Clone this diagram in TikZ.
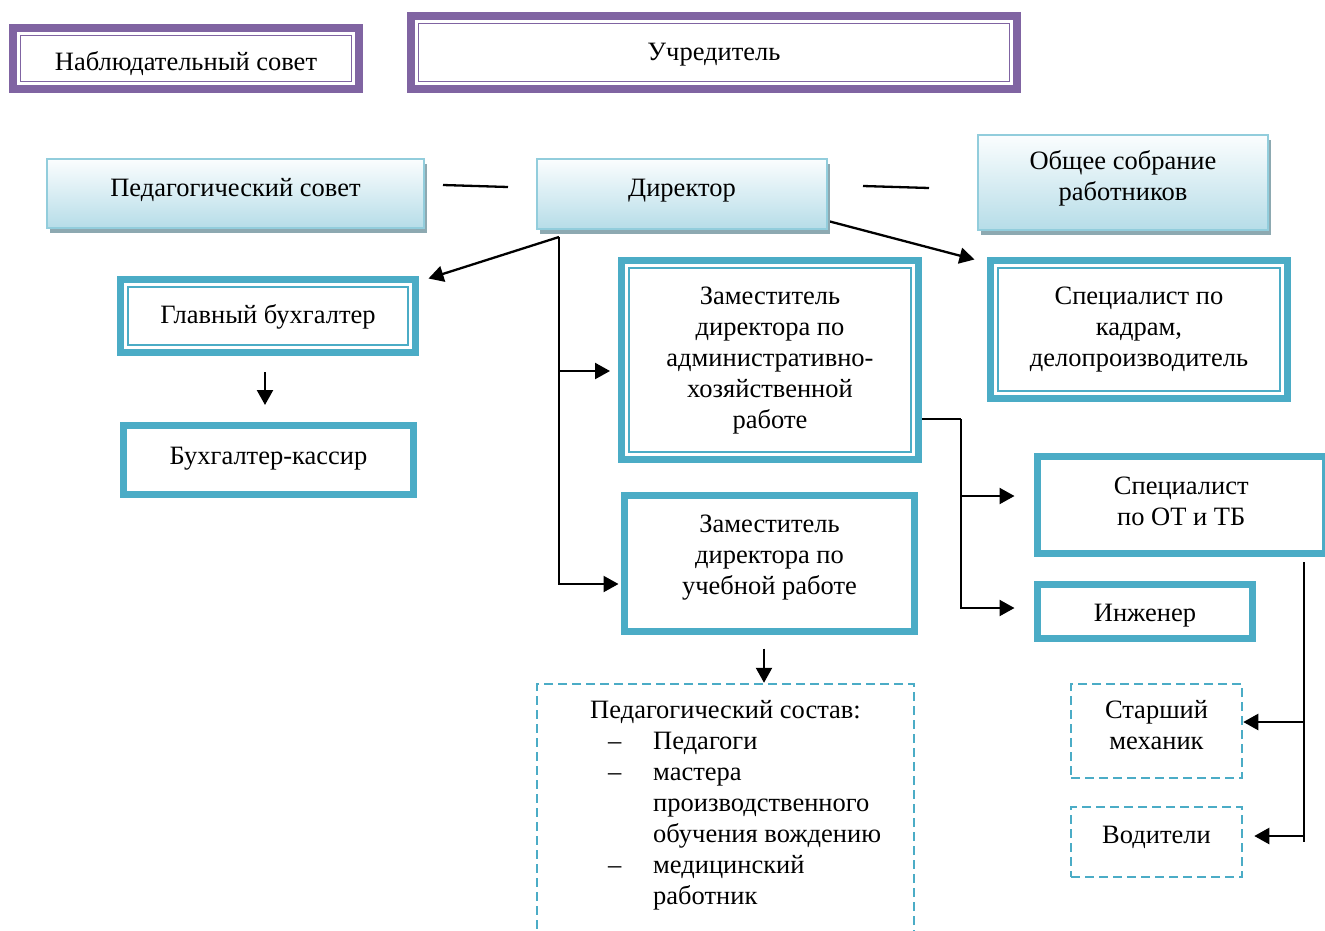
\documentclass[tikz,border=0pt]{standalone}
\usepackage{fontspec}
\setmainfont{Liberation Serif}
\usetikzlibrary{arrows.meta,shadows}
\definecolor{purp}{HTML}{8064A2}
\definecolor{tealc}{HTML}{4BACC6}
\definecolor{gtop}{HTML}{FBFDFE}
\definecolor{gbot}{HTML}{B6DDE8}
\definecolor{gborder}{HTML}{92CDDC}
\definecolor{gshadow}{HTML}{8DA9B1}
\pgfdeclarelayer{background}
\pgfsetlayers{background,main}
% text block whose first baseline sits #1 below the node centre (negative = above)
\newcommand{\tx}[2]{\raisebox{#1}[0pt][0pt]{\begin{tabular}[t]{@{}c@{}}#2\end{tabular}}}
\tikzset{
  base/.style={rectangle, inner sep=0pt, align=center, text=black},
  thickthin/.style 2 args={base, draw=#1, line width=#2,
    path picture={\draw[#1,line width=1.6pt]
      ([shift={(7.5pt,-7.5pt)}]path picture bounding box.north west) rectangle
      ([shift={(-7.5pt,7.5pt)}]path picture bounding box.south east);}},
  purpbox/.style={thickthin={purp}{8pt}},
  dblbox/.style={thickthin={tealc}{7pt}},
  thickbox/.style={base, draw=tealc, line width=7pt},
  gradbox/.style={base, draw=gborder, line width=2pt, top color=gtop, bottom color=gbot,
    drop shadow={shadow xshift=3pt, shadow yshift=-5pt, fill=gshadow, opacity=1}},
  dashbox/.style={base, draw=tealc, line width=2.5pt, dash pattern=on 9pt off 5pt},
  conn/.style={draw=black, line width=2.3pt},
  arr/.style={conn, -{Triangle[length=15pt,width=16pt]}},
}
\begin{document}
\begin{tikzpicture}[x=1pt,y=-1pt, font=\fontsize{26.5}{31}\selectfont]
\useasboundingbox (0,0) rectangle (1325,930);
\clip (0,0) rectangle (1325,930);

% top boards
\node[purpbox, minimum width=346pt, minimum height=61pt] (nab) at (186,58.5) {\tx{-12pt}{Наблюдательный совет}};
\node[purpbox, minimum width=606pt, minimum height=73pt] (uch) at (714,52.5) {\tx{-8pt}{Учредитель}};

% gradient boxes
\node[gradbox, minimum width=377pt, minimum height=69pt] (ped) at (235.5,193.5) {\tx{-3pt}{Педагогический совет}};
\node[gradbox, minimum width=290pt, minimum height=70pt] (dir) at (682,194) {\tx{-2.5pt}{Директор}};
\node[gradbox, minimum width=290pt, minimum height=95pt] (obs) at (1123,182.5) {\tx{13pt}{Общее собрание\\работников}};

% left column
\node[dblbox, minimum width=295pt, minimum height=73pt] (gb) at (268,316) {\tx{-7.5pt}{Главный бухгалтер}};
\node[thickbox, minimum width=290pt, minimum height=69pt] (bk) at (268.5,460) {\tx{-4.5pt}{Бухгалтер-кассир}};

% middle column
\node[dblbox, minimum width=297pt, minimum height=199pt] (zahr) at (770,360)
  {\tx{55.5pt}{Заместитель\\директора по\\административно-\\хозяйственной\\работе}};
\node[thickbox, minimum width=290pt, minimum height=136pt] (zur) at (769.5,563.5)
  {\tx{31pt}{Заместитель\\директора по\\учебной работе}};

% right column
\node[dblbox, minimum width=297pt, minimum height=138pt] (spk) at (1139,329.5)
  {\tx{25pt}{Специалист по\\кадрам,\\делопроизводитель}};
\node[thickbox, minimum width=287.5pt, minimum height=97pt] (sot) at (1181.25,505)
  {\tx{10.5pt}{Специалист\\по ОТ и ТБ}};
\node[thickbox, minimum width=215pt, minimum height=54pt] (ing) at (1145,611.5) {\tx{-10pt}{Инженер}};

% dashed boxes
\node[dashbox, minimum width=377pt, minimum height=256pt] (pedsost) at (725.5,812) {};
\node[base, align=left, anchor=north west] (pstext) at (590,700)
  {Педагогический состав:\\
   \hspace*{18pt}\makebox[45pt][l]{–}Педагоги\\
   \hspace*{18pt}\makebox[45pt][l]{–}мастера\\
   \hspace*{63pt}производственного\\
   \hspace*{63pt}обучения вождению\\
   \hspace*{18pt}\makebox[45pt][l]{–}медицинский\\
   \hspace*{63pt}работник};
\node[dashbox, minimum width=171pt, minimum height=94pt] (stm) at (1156.5,731) {\tx{12.5pt}{Старший\\механик}};
\node[dashbox, minimum width=171pt, minimum height=70pt] (vod) at (1156.5,842) {\tx{-1.5pt}{Водители}};

% connectors
\coordinate (l1a) at (443,185);
\coordinate (l1b) at (508,187);
\coordinate (l2a) at (863,186);
\coordinate (l2b) at (929,188);
\coordinate (jd) at (559,237);
\coordinate (jz) at (961,419);
\coordinate (js) at (1304,562);
\begin{pgfonlayer}{background}
\draw[conn] (l1a) -- (l1b);
\draw[conn] (l2a) -- (l2b);
\draw[arr] (jd) -- ([shift={(9.5pt,-2.5pt)}]gb.north east);
\draw[arr, shorten >=8pt] (jd) |- ([yshift=-11pt]zahr.west);
\draw[arr, shorten >=2.5pt] (jd) |- ([yshift=-20.5pt]zur.west);
\draw[arr, shorten <=16pt, shorten >=17pt] ([xshift=-3pt]gb.south) -- ([xshift=-3pt]gb.south |- bk.north);
\draw[arr] ([yshift=-27pt]dir.east) -- ([shift={(-12.5pt,-2.5pt)}]spk.north west);
\draw[conn] ([yshift=-59pt]zahr.east) -- (jz);
\draw[arr, shorten >=19.5pt] (jz) |- ([yshift=9pt]sot.west);
\draw[arr, shorten >=19.5pt] (jz) |- ([yshift=3.5pt]ing.west);
\draw[arr, shorten <=13.5pt] ([xshift=-5.5pt]zur.south) -- ([xshift=-5.5pt]zur.south |- pedsost.north);
\draw[conn] (js) -- (js |- vod.east);
\draw[arr] ([yshift=9pt]stm.east -| js) -- ([yshift=9pt]stm.east);
\draw[arr, shorten >=11pt] ([yshift=6pt]vod.east -| js) -- ([yshift=6pt]vod.east);
\end{pgfonlayer}
\end{tikzpicture}
\end{document}
